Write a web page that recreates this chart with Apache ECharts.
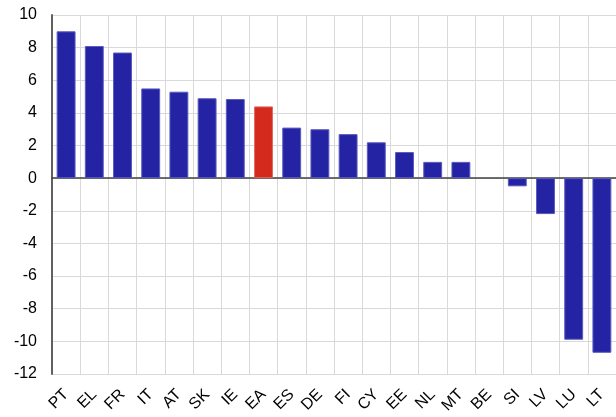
<!DOCTYPE html>
<html><head><meta charset="utf-8">
<script src="https://cdn.jsdelivr.net/npm/echarts@6/dist/echarts.min.js"></script>
<style>html,body{margin:0;padding:0;background:#fff}#c{width:616px;height:417px}</style>
</head><body><div id="c"></div>
<script>
const categories = ['PT','EL','FR','IT','AT','SK','IE','EA','ES','DE','FI','CY','EE','NL','MT','BE','SI','LV','LU','LT'];
const values = [9.0, 8.1, 7.7, 5.5, 5.3, 4.9, 4.85, 4.4, 3.1, 3.0, 2.7, 2.2, 1.6, 1.0, 1.0, 0, -0.5, -2.2, -9.9, -10.7];
const highlight = 'EA';
const yTicks = {min: -12, max: 10, interval: 2};

const chart = echarts.init(document.getElementById('c'), null, {renderer: 'canvas'});
chart.setOption({
  animation: false,
  grid: {left: 52, right: -3, top: 15, bottom: 43, containLabel: false},
  xAxis: {
    type: 'category', data: categories,
    axisLine: {onZero: true, lineStyle: {color: '#404040', width: 1.5}},
    axisTick: {show: false},
    axisLabel: {rotate: 45, color: '#000', fontSize: 16, fontFamily: 'Liberation Sans, Arial, sans-serif', margin: 18, interval: 0},
    splitLine: {show: true, lineStyle: {color: '#d9d9d9', width: 1}}
  },
  yAxis: {
    type: 'value', min: yTicks.min, max: yTicks.max, interval: yTicks.interval,
    axisLine: {show: true, lineStyle: {color: '#606060', width: 2}},
    axisTick: {show: false},
    axisLabel: {color: '#000', fontSize: 16, fontFamily: 'Liberation Sans, Arial, sans-serif', margin: 15},
    splitLine: {show: true, lineStyle: {color: '#d9d9d9', width: 1}}
  },
  series: [{
    type: 'bar',
    barWidth: '67%',
    data: values.map((v, i) => ({
      value: v,
      itemStyle: {color: categories[i] === highlight ? '#d42a1e' : '#2323a3',
                  borderColor: categories[i] === highlight ? '#e06a60' : '#5a5ac0', borderWidth: v === 0 ? 0 : 1}
    }))
  }]
});
</script></body></html>
